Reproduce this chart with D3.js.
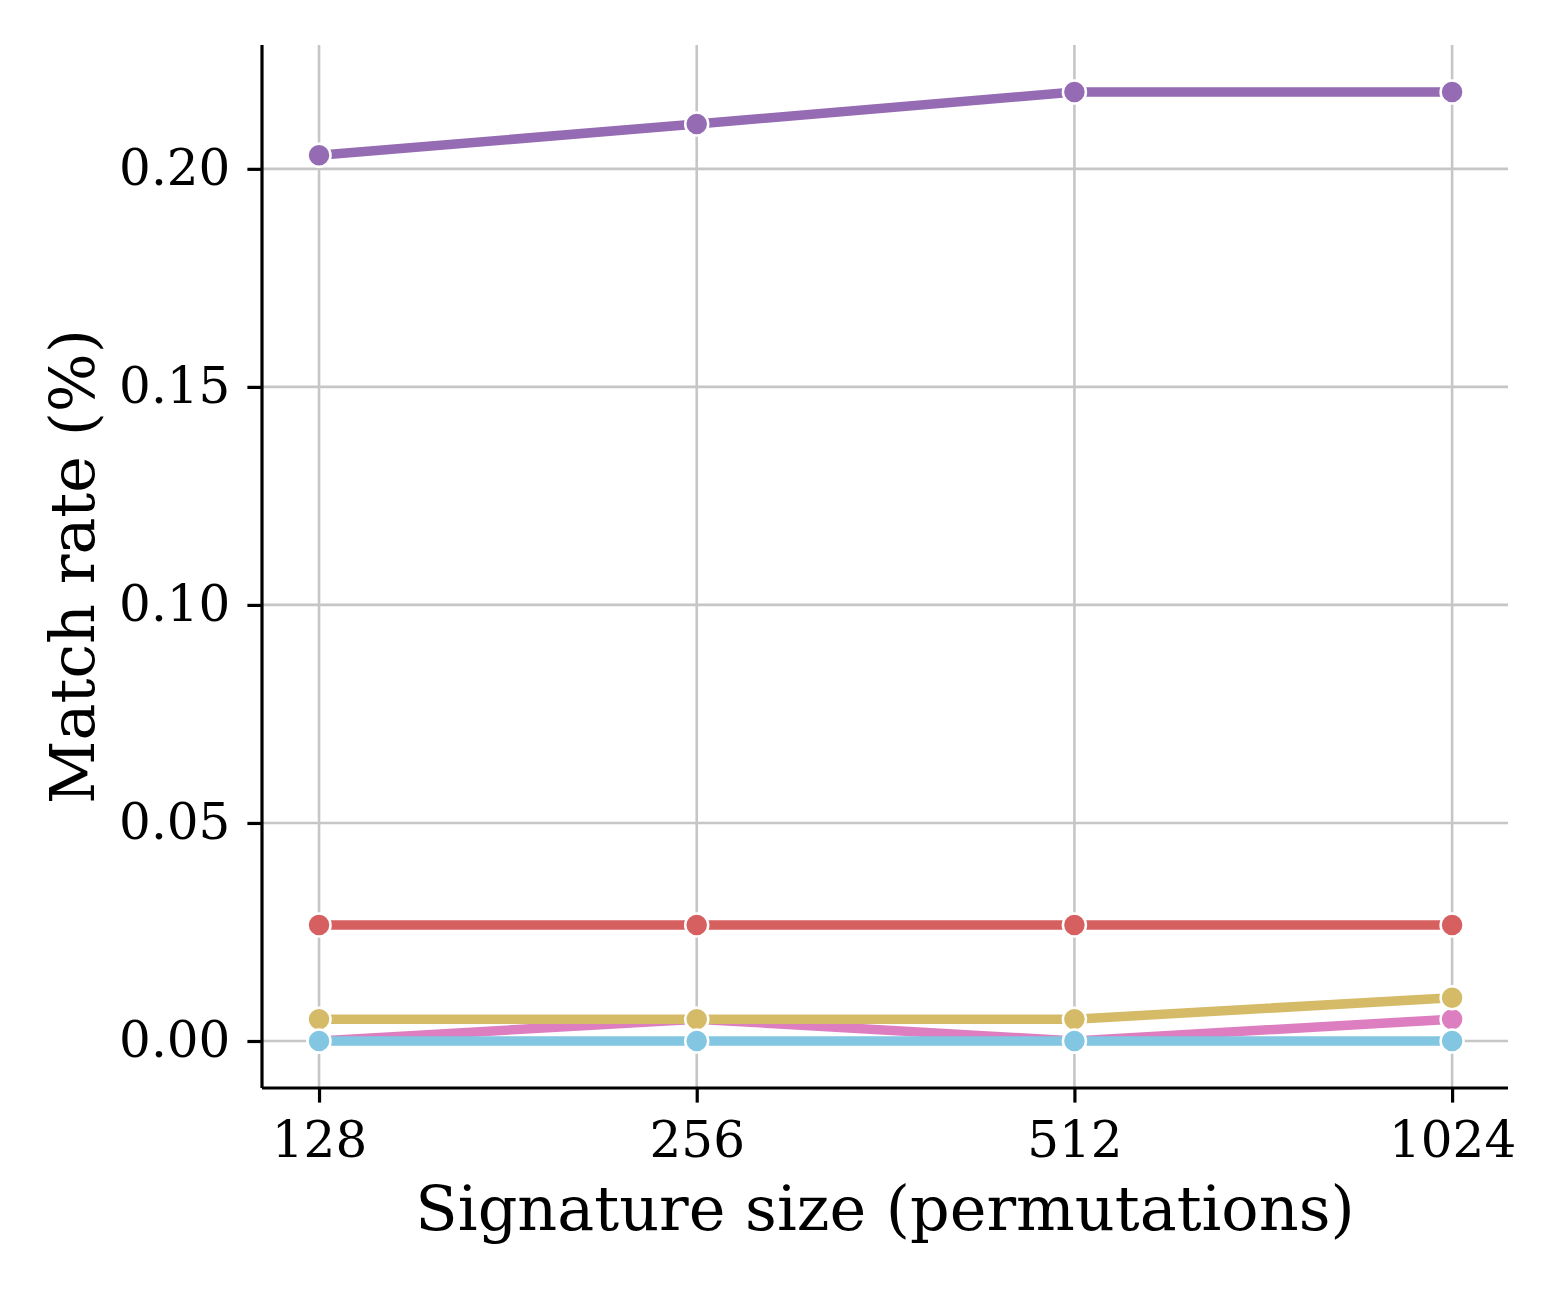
<!DOCTYPE html>
<html>
<head>
<meta charset="utf-8">
<script src="https://cdn.jsdelivr.net/npm/d3@7"></script>
<style>
  body { margin: 0; background: #fff; }
  svg { display: block; }
  text { font-family: "DejaVu Serif", serif; fill: #000; }
</style>
</head>
<body>
<svg id="chart" width="1561" height="1290"></svg>
<script>
// Match rate vs signature size, one line per series.

const sizes = [128, 256, 512, 1024];
const yTicks = [0, 0.05, 0.10, 0.15, 0.20];

// drawn in this order (later on top)
const purple = [0.2031, 0.2103, 0.2176, 0.2176];
const red = [0.0266, 0.0266, 0.0266, 0.0266];
const pink = [0.0, 0.005, 0.0, 0.005];
const olive = [0.005, 0.005, 0.005, 0.0099];
const cyan = [0.0, 0.0, 0.0, 0.0];

const series = [
  { values: purple, color: '#956cb4' },
  { values: red, color: '#d65f5f' },
  { values: pink, color: '#dc7ec0' },
  { values: olive, color: '#d5bb67' },
  { values: cyan, color: '#82c6e2' }
];

const margin = { left: 262, right: 1508, top: 45, bottom: 1088 };

const svg = d3.select('#chart');

const x = d3.scaleLog().base(2)
  .domain([128 / Math.pow(2, 0.151), 1024 * Math.pow(2, 0.148)])
  .range([margin.left, margin.right]);

const y = d3.scaleLinear()
  .domain([-0.01078, 0.2284])
  .range([margin.bottom, margin.top]);

// grid
const grid = svg.append('g').attr('class', 'grid');
grid.selectAll('line.gx')
  .data(sizes)
  .join('line')
  .attr('x1', d => x(d)).attr('x2', d => x(d))
  .attr('y1', margin.top).attr('y2', margin.bottom)
  .attr('stroke', '#c6c6c6').attr('stroke-width', 2.6);
grid.selectAll('line.gy')
  .data(yTicks)
  .join('line')
  .attr('class', 'gy')
  .attr('x1', margin.left).attr('x2', margin.right)
  .attr('y1', d => y(d)).attr('y2', d => y(d))
  .attr('stroke', '#c6c6c6').attr('stroke-width', 2.6);

// lines + markers
const line = d3.line()
  .x((d, i) => x(sizes[i]))
  .y(d => y(d));

series.forEach(s => {
  const g = svg.append('g');
  g.append('path')
    .attr('d', line(s.values))
    .attr('fill', 'none')
    .attr('stroke', s.color)
    .attr('stroke-width', 9.5)
    .attr('stroke-linejoin', 'round');
  g.selectAll('circle')
    .data(s.values)
    .join('circle')
    .attr('cx', (d, i) => x(sizes[i]))
    .attr('cy', d => y(d))
    .attr('r', 11.5)
    .attr('fill', s.color)
    .attr('stroke', '#fff')
    .attr('stroke-width', 2.5);
});

// axes
const xAxis = svg.append('g')
  .attr('transform', `translate(0,${margin.bottom})`)
  .call(d3.axisBottom(x).tickValues(sizes).tickFormat(d3.format('d')).tickSize(14.6).tickPadding(19));
const yAxis = svg.append('g')
  .attr('transform', `translate(${margin.left},0)`)
  .call(d3.axisLeft(y).tickValues(yTicks).tickFormat(d3.format('.2f')).tickSize(14.6).tickPadding(17));

[xAxis, yAxis].forEach(a => {
  a.select('.domain').attr('stroke', '#000').attr('stroke-width', 3.2);
  a.selectAll('.tick line').attr('stroke', '#000').attr('stroke-width', 3.2);
  a.selectAll('.tick text')
    .style('font-family', '"DejaVu Serif", serif')
    .style('font-size', '50px')
    .attr('fill', '#000');
});
// strip the axis end caps like matplotlib spines
xAxis.select('.domain').attr('d', `M${margin.left},0H${margin.right}`);
yAxis.select('.domain').attr('d', `M0,${margin.bottom}V${margin.top}`);

// labels
svg.append('text')
  .attr('x', (margin.left + margin.right) / 2)
  .attr('y', 1230)
  .attr('text-anchor', 'middle')
  .style('font-size', '62px')
  .text('Signature size (permutations)');

svg.append('text')
  .attr('transform', `translate(94,${(margin.top + margin.bottom) / 2}) rotate(-90)`)
  .attr('text-anchor', 'middle')
  .style('font-size', '62px')
  .text('Match rate (%)');
</script>
</body>
</html>
